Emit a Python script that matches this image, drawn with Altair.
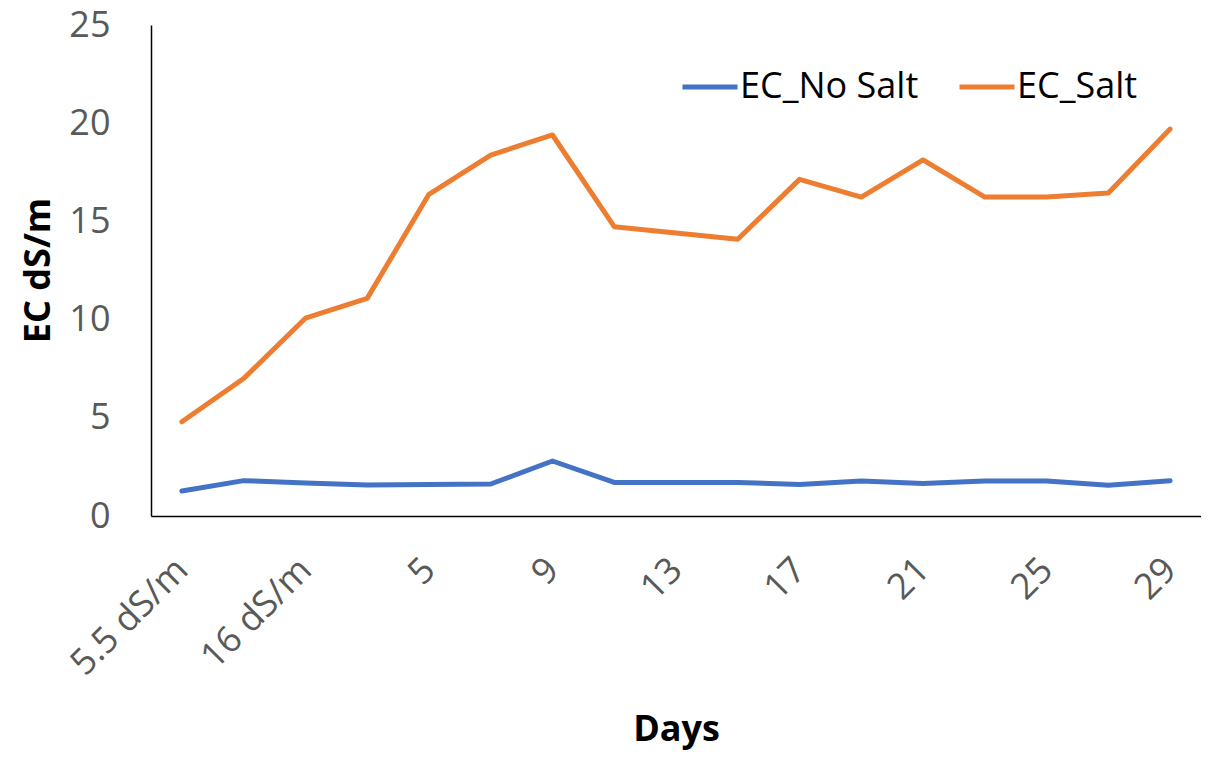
import altair as alt
import pandas as pd

categories = ["5.5 dS/m", "11 dS/m", "16 dS/m", "3", "5", "7", "9", "11", "13",
              "15", "17", "19", "21", "23", "25", "27", "29"]
shown_labels = ["5.5 dS/m", "16 dS/m", "5", "9", "13", "17", "21", "25", "29"]
ec_no_salt = [1.27, 1.8, 1.68, 1.58, 1.61, 1.63, 2.8, 1.71, 1.71, 1.71, 1.61,
              1.78, 1.66, 1.78, 1.78, 1.56, 1.8]
ec_salt = [4.8, 7.0, 10.07, 11.08, 16.38, 18.38, 19.4, 14.73, 14.41, 14.09, 17.14,
           16.24, 18.13, 16.24, 16.24, 16.45, 19.7]
series_names = ["EC_No Salt", "EC_Salt"]
series_colors = ["#4472C4", "#ED7D31"]

rows = []
for i, c in enumerate(categories):
    rows.append({"Day": c, "order": i, "Series": series_names[0], "EC": ec_no_salt[i]})
    rows.append({"Day": c, "order": i, "Series": series_names[1], "EC": ec_salt[i]})
df = pd.DataFrame(rows)

FONT = "Open Sans"

chart = alt.Chart(df).mark_line(strokeWidth=5, strokeCap="round", strokeJoin="round").encode(
    x=alt.X("Day:N", sort=categories,
            scale=alt.Scale(domain=categories, padding=0.5),
            axis=alt.Axis(values=shown_labels, labelAngle=315, labelAlign="right",
                          labelBaseline="middle", labelPadding=48, ticks=False,
                          domainColor="black", domainWidth=1.5, labelFontSize=36,
                          labelFont=FONT, labelColor="#595959", labelOverlap=False,
                          labelBound=False, labelLimit=400, grid=False,
                          title="Days", titleFont=FONT, titleFontSize=36,
                          titleFontWeight="bold", titleColor="black",
                          titleY=213, titleBaseline="middle")),
    y=alt.Y("EC:Q", scale=alt.Scale(domain=[0, 25], nice=False),
            axis=alt.Axis(values=[0, 5, 10, 15, 20, 25], grid=False, ticks=False,
                          domainColor="black", domainWidth=1.5, labelFontSize=36,
                          labelFont=FONT, labelColor="#595959", labelPadding=41,
                          title="EC dS/m", titleFont=FONT, titleFontSize=36,
                          titleFontWeight="bold", titleColor="black",
                          titleX=-113, titleY=245, titleAngle=270,
                          titleBaseline="middle", titleAlign="center")),
    color=alt.Color("Series:N",
                    scale=alt.Scale(domain=series_names, range=series_colors),
                    legend=alt.Legend(orient="none", legendX=529, legendY=32,
                                      direction="horizontal", symbolType="stroke",
                                      symbolSize=3025, symbolStrokeWidth=5,
                                      labelFontSize=36, labelFont=FONT,
                                      labelColor="black", labelLimit=400,
                                      columnPadding=30, labelOffset=0, title=None)),
    order="order:Q",
).properties(
    width=1050, height=491,
    autosize=alt.AutoSizeParams(type="none"),
    padding={"left": 143, "top": 17, "right": 0, "bottom": 238},
).configure_view(stroke=None)

chart.save("out.html", embed_options={"renderer": "svg", "actions": False})
